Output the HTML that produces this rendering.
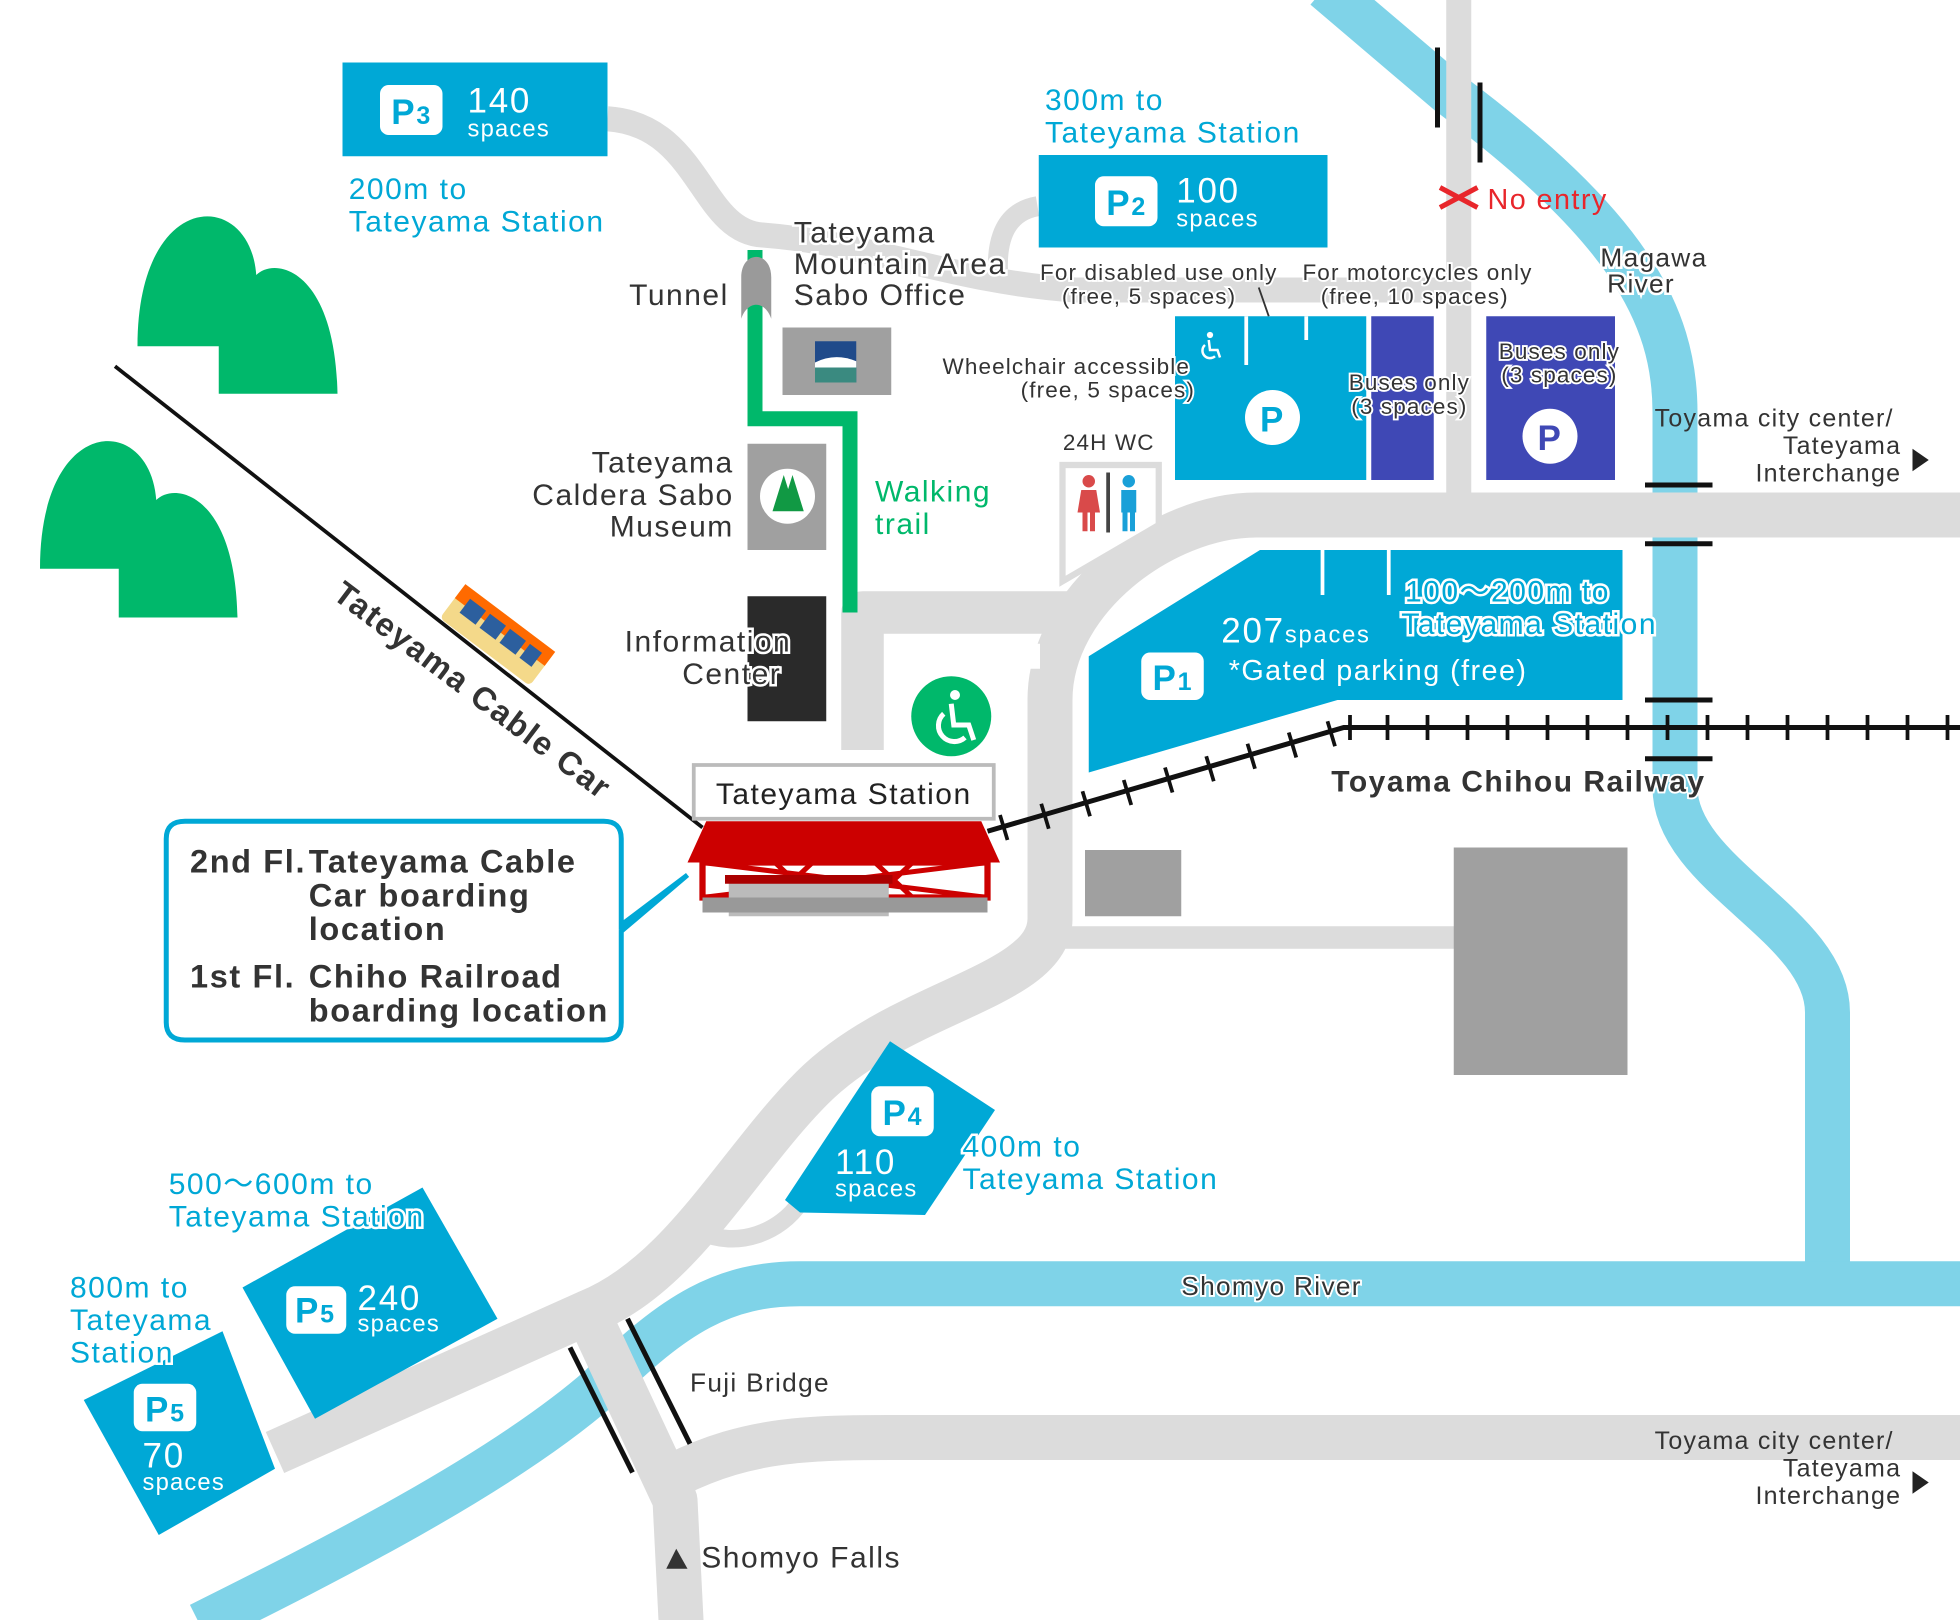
<!DOCTYPE html>
<html><head><meta charset="utf-8"><style>
html,body{margin:0;padding:0;background:#fff}
svg{display:block}
text{font-family:"Liberation Sans","Noto Sans CJK JP",sans-serif;letter-spacing:0.05em}
</style></head><body>
<svg width="1960" height="1620" viewBox="0 0 1568 1296" xmlns="http://www.w3.org/2000/svg">
<rect width="1568" height="1296" fill="#fff"/>
<!-- rivers -->
<g fill="none" stroke="#7fd3e8" stroke-width="36">
<path d="M1060,-10 L1160,75 C1300,180 1340,250 1340,330 L1340,630 C1340,700 1462,740 1462,810 L1462,1010"/>
<path d="M1568,1027 L640,1027 C580,1027 540,1050 480,1110 C400,1180 260,1250 160,1300"/>
</g>
<!-- roads -->
<g fill="none" stroke="#dcdcdc" stroke-linejoin="round">
<path d="M1568,412 L1005,412 C930,412 840,480 840,560 L840,735 C840,790 720,800 650,870 C590,930 545,1020 470,1050 L220,1162" stroke-width="36"/>
<path d="M470,1050 L540,1200 L545,1300" stroke-width="36"/>
<path d="M540,1180 C600,1150 650,1150 720,1150 L1568,1150" stroke-width="36"/>
<path d="M1167,0 L1167,400" stroke-width="20"/>
<path d="M486,95 C560,100 560,185 610,188 C700,195 760,225 860,232 L1167,232" stroke-width="20"/>
<path d="M800,232 C795,200 800,170 830,165" stroke-width="16"/>
<path d="M840,750 L1165,750" stroke-width="18"/>
<path d="M690,600 L690,490 L855,490" stroke-width="34"/>
<path d="M560,985 C590,1000 625,985 640,962" stroke-width="14"/>
</g>
<rect x="708" y="515" width="32" height="50" fill="#fff"/>
<rect x="777" y="515" width="55" height="20" fill="#fff"/>
<!-- hills -->
<g fill="#00b86b">
<path d="M110,277 C110,150 200,150 205,220 C220,205 268,215 270,315 L175,315 L175,277 Z"/>
<path d="M32,455 C32,330 120,330 125,400 C140,385 188,395 190,494 L95,494 L95,455 Z"/>
</g>
<!-- cable car line -->
<line x1="92" y1="293" x2="562" y2="662" stroke="#111" stroke-width="3"/>
<g transform="translate(398,508) rotate(37)">
<rect x="-45" y="-17" width="90" height="34" rx="4" fill="#f4d98a"/>
<rect x="-45" y="-17" width="90" height="14" fill="#ff6a00"/>
<rect x="-35" y="-10" width="16" height="14" fill="#2c5f9e"/><rect x="-15" y="-10" width="16" height="14" fill="#2c5f9e"/><rect x="5" y="-10" width="16" height="14" fill="#2c5f9e"/><rect x="25" y="-10" width="12" height="14" fill="#2c5f9e"/>
</g>
<text transform="translate(265,478) rotate(37)" font-size="26" font-weight="bold" fill="#333">Tateyama Cable Car</text>
<!-- walking trail -->
<path d="M604,200 L604,335 L680,335 L680,490" fill="none" stroke="#00b86b" stroke-width="12"/>
<path d="M593,255 L593,222 C593,200 617,200 617,222 L617,255 C612,240 598,240 593,255 Z" fill="#9a9a9a"/>
<!-- buildings -->
<rect x="626" y="262" width="87" height="54" fill="#a0a0a0"/>
<rect x="652" y="273" width="33" height="33" fill="#1f4a8a"/><rect x="652" y="292" width="33" height="14" fill="#3a8a80"/><path d="M652,290 Q668,282 685,289 L685,294 L652,294Z" fill="#fff"/>
<rect x="598" y="355" width="63" height="85" fill="#a0a0a0"/>
<circle cx="630" cy="397" r="22" fill="#fff"/>
<path d="M618,409 L627,380 L636,409Z M625,409 L634,380 L643,409Z" fill="#119944"/>
<rect x="598" y="477" width="63" height="100" fill="#2a2a2a"/>
<rect x="868" y="680" width="77" height="53" fill="#a0a0a0"/>
<rect x="1163" y="678" width="139" height="182" fill="#a0a0a0"/>
<!-- WC -->
<path d="M850,372 L927,372 L927,420 L850,465Z" fill="#fff" stroke="#dcdcdc" stroke-width="5"/>
<circle cx="871" cy="385" r="5" fill="#d94a4a"/><path d="M865,392 L877,392 L880,410 L862,410Z M866,410 h4 v15 h-4Z M872,410 h4 v15 h-4Z" fill="#d94a4a"/>
<rect x="885" y="378" width="3" height="48" fill="#444"/>
<circle cx="903" cy="385" r="5" fill="#1aa0d8"/><path d="M897,392 h12 v18 h-12Z M898,410 h4 v15 h-4Z M904,410 h4 v15 h-4Z" fill="#1aa0d8"/>
<!-- wheelchair -->
<circle cx="761" cy="573" r="32" fill="#00b86b"/>
<circle cx="764" cy="556" r="4" fill="#fff"/>
<path d="M761,563 L763,580 L775,580 L779,592" fill="none" stroke="#fff" stroke-width="4"/>
<path d="M755,571 A12,12 0 1 0 772,590" fill="none" stroke="#fff" stroke-width="4"/>
<!-- parking lots -->
<g fill="#00a8d6">
<rect x="274" y="50" width="212" height="75"/>
<rect x="831" y="124" width="231" height="74"/>
<rect x="940" y="253" width="153" height="131"/>
<polygon points="871,525 1008,440 1298,440 1298,560 1070,560 871,618"/>
<polygon points="712,833 796,888 740,972 640,970 628,960"/>
<polygon points="194,1030 338,950 398,1055 252,1135"/>
<polygon points="67,1120 178,1065 220,1175 127,1228"/>
</g>
<g fill="#3f48b5"><rect x="1097" y="253" width="50" height="131"/><rect x="1189" y="253" width="103" height="131"/></g>
<g stroke="#fff" stroke-width="3"><line x1="997" y1="253" x2="997" y2="292"/><line x1="1045" y1="253" x2="1045" y2="272"/><line x1="1058" y1="440" x2="1058" y2="476"/><line x1="1111" y1="440" x2="1111" y2="476"/></g>
<line x1="1007" y1="230" x2="1015" y2="253" stroke="#333" stroke-width="1.5"/>
<circle cx="1018" cy="334" r="22" fill="#fff"/><text x="1018" y="345" font-size="28" font-weight="bold" fill="#00a8d6" text-anchor="middle">P</text>
<circle cx="1240" cy="349" r="22" fill="#fff"/><text x="1240" y="360" font-size="28" font-weight="bold" fill="#3f48b5" text-anchor="middle">P</text>
<circle cx="968" cy="268" r="2.5" fill="#fff"/>
<path d="M967,272 L968,280 L974,280 L976,286" fill="none" stroke="#fff" stroke-width="2"/>
<path d="M964,276 A6,6 0 1 0 972,285" fill="none" stroke="#fff" stroke-width="2"/>
<!-- P badges -->
<g fill="#fff">
<rect x="304" y="68" width="50" height="40" rx="7"/>
<rect x="876" y="141" width="50" height="40" rx="7"/>
<rect x="913" y="522" width="50" height="38" rx="7"/>
<rect x="697" y="869" width="50" height="40" rx="7"/>
<rect x="229" y="1029" width="48" height="38" rx="7"/>
<rect x="107" y="1107" width="50" height="38" rx="7"/>
</g>
<g font-weight="bold" fill="#00a8d6" font-size="28">
<text x="313" y="99">P<tspan font-size="20">3</tspan></text>
<text x="885" y="172">P<tspan font-size="20">2</tspan></text>
<text x="922" y="552">P<tspan font-size="20">1</tspan></text>
<text x="706" y="900">P<tspan font-size="20">4</tspan></text>
<text x="236" y="1058">P<tspan font-size="20">5</tspan></text>
<text x="116" y="1137">P<tspan font-size="20">5</tspan></text>
</g>
<g fill="#fff">
<text x="374" y="90" font-size="28">140</text><text x="374" y="109" font-size="19">spaces</text>
<text x="941" y="162" font-size="28">100</text><text x="941" y="181" font-size="19">spaces</text>
<text x="977" y="514" font-size="28">207<tspan font-size="19">spaces</tspan></text>
<text x="983" y="544" font-size="23">*Gated parking (free)</text>
<text x="668" y="939" font-size="28">110</text><text x="668" y="957" font-size="19">spaces</text>
<text x="286" y="1048" font-size="28">240</text><text x="286" y="1065" font-size="19">spaces</text>
<text x="114" y="1174" font-size="28">70</text><text x="114" y="1192" font-size="19">spaces</text>
</g>
<!-- railway -->
<path d="M790,665 L1075,582 L1568,582" fill="none" stroke="#111" stroke-width="4"/>
<g stroke="#111" stroke-width="3">
<line x1="800" y1="652" x2="806" y2="672"/><line x1="833" y1="643" x2="839" y2="663"/><line x1="866" y1="633" x2="872" y2="653"/><line x1="899" y1="624" x2="905" y2="644"/><line x1="932" y1="614" x2="938" y2="634"/><line x1="965" y1="605" x2="971" y2="625"/><line x1="998" y1="595" x2="1004" y2="615"/><line x1="1031" y1="586" x2="1037" y2="606"/><line x1="1062" y1="577" x2="1068" y2="597"/>
</g>
<path d="M1080,572v20M1110,572v20M1142,572v20M1174,572v20M1206,572v20M1238,572v20M1270,572v20M1302,572v20M1334,572v20M1366,572v20M1398,572v20M1430,572v20M1462,572v20M1494,572v20M1526,572v20M1558,572v20" stroke="#111" stroke-width="3"/>
<g stroke="#111" stroke-width="4"><line x1="1316" y1="388" x2="1370" y2="388"/><line x1="1316" y1="435" x2="1370" y2="435"/><line x1="1316" y1="560" x2="1370" y2="560"/><line x1="1316" y1="607" x2="1370" y2="607"/><line x1="1150" y1="38" x2="1150" y2="102"/><line x1="1184" y1="66" x2="1184" y2="130"/><line x1="456" y1="1078" x2="506" y2="1178"/><line x1="502" y1="1055" x2="552" y2="1155"/></g>
<!-- station -->
<rect x="555" y="612" width="240" height="43" fill="#fff" stroke="#bbb" stroke-width="3"/>
<text x="675" y="643" font-size="24" fill="#222" text-anchor="middle">Tateyama Station</text>
<polygon points="565,657 785,657 800,690 550,690" fill="#c00"/>
<rect x="562" y="690" width="228" height="28" fill="none" stroke="#c00" stroke-width="5"/>
<path d="M562,690 L790,718 M562,718 L790,690 M620,690 L650,718 M650,690 L620,718 M700,690 L730,718 M730,690 L700,718" stroke="#c00" stroke-width="4"/>
<rect x="583" y="703" width="128" height="30" fill="#bbb"/>
<rect x="580" y="700" width="134" height="7" fill="#a00"/>
<rect x="562" y="718" width="228" height="12" fill="#999"/>
<!-- callout -->
<path d="M148,657 L483,657 Q497,657 497,671 L497,740 L550,700 L497,745 L497,818 Q497,832 483,832 L148,832 Q133,832 133,818 L133,671 Q133,657 148,657Z" fill="#fff" stroke="#00a8d6" stroke-width="4"/>
<g font-size="26" font-weight="bold" fill="#333" style="letter-spacing:0">
<text x="152" y="698">2nd Fl.</text><text x="247" y="698">Tateyama Cable</text><text x="247" y="725">Car boarding</text><text x="247" y="752">location</text>
<text x="152" y="790">1st Fl.</text><text x="247" y="790">Chiho Railroad</text><text x="247" y="817">boarding location</text>
</g>
<!-- cyan labels -->
<g fill="#00a8d6" font-size="24" stroke="#fff" stroke-width="4" paint-order="stroke">
<text x="279" y="159">200m to</text><text x="279" y="185">Tateyama Station</text>
<text x="836" y="88">300m to</text><text x="836" y="114">Tateyama Station</text>
<text x="1124" y="481">100～200m to</text><text x="1121" y="507">Tateyama Station</text>
<text x="770" y="925">400m to</text><text x="770" y="951">Tateyama Station</text>
<text x="135" y="955">500～600m to</text><text x="135" y="981">Tateyama Station</text>
<text x="56" y="1038">800m to</text><text x="56" y="1064">Tateyama</text><text x="56" y="1090">Station</text>
</g>
<text x="700" y="401" fill="#00b86b" font-size="24">Walking</text><text x="700" y="427" fill="#00b86b" font-size="24">trail</text>
<!-- dark labels -->
<g fill="#333" font-size="24" stroke="#fff" stroke-width="4" paint-order="stroke">
<text x="635" y="194">Tateyama</text><text x="635" y="219">Mountain Area</text><text x="635" y="244">Sabo Office</text>
<text x="583" y="244" text-anchor="end">Tunnel</text>
<text x="587" y="378" text-anchor="end">Tateyama</text><text x="587" y="404" text-anchor="end">Caldera Sabo</text><text x="587" y="429" text-anchor="end">Museum</text>
<text x="633" y="521" text-anchor="end">Information</text><text x="625" y="547" text-anchor="end">Center</text>
<text x="1366" y="213" text-anchor="end" font-size="21">Magawa</text><text x="1340" y="234" text-anchor="end" font-size="21">River</text>
</g>
<g fill="#333" font-size="18" stroke="#fff" stroke-width="3" paint-order="stroke">
<text x="1022" y="224" text-anchor="end">For disabled use only</text><text x="989" y="243" text-anchor="end">(free, 5 spaces)</text>
<text x="1226" y="224" text-anchor="end">For motorcycles only</text><text x="1207" y="243" text-anchor="end">(free, 10 spaces)</text>
<text x="952" y="299" text-anchor="end">Wheelchair accessible</text><text x="956" y="318" text-anchor="end">(free, 5 spaces)</text>
<text x="887" y="360" text-anchor="middle">24H WC</text>
<text x="1176" y="312" text-anchor="end">Buses only</text><text x="1174" y="331" text-anchor="end">(3 spaces)</text>
<text x="1296" y="287" text-anchor="end">Buses only</text><text x="1294" y="306" text-anchor="end">(3 spaces)</text>
</g>
<g fill="#333" font-size="20" text-anchor="end">
<text x="1515" y="341">Toyama city center/</text><text x="1521" y="363">Tateyama</text><text x="1521" y="385">Interchange</text>
<text x="1515" y="1159">Toyama city center/</text><text x="1521" y="1181">Tateyama</text><text x="1521" y="1203">Interchange</text>
</g>
<polygon points="1530,359 1530,377 1543,368" fill="#222"/><polygon points="1530,1177 1530,1195 1543,1186" fill="#222"/>
<path d="M1152,150 L1182,166 M1152,166 L1182,150" stroke="#e8262b" stroke-width="4"/>
<text x="1190" y="167" fill="#e8262b" font-size="23">No entry</text>
<text x="1065" y="633" fill="#333" font-size="24" font-weight="bold" stroke="#fff" stroke-width="3" paint-order="stroke">Toyama Chihou Railway</text>
<text x="945" y="1036" fill="#333" font-size="21" stroke="#fff" stroke-width="3" paint-order="stroke">Shomyo River</text>
<text x="552" y="1113" fill="#333" font-size="21" stroke="#fff" stroke-width="3" paint-order="stroke">Fuji Bridge</text>
<polygon points="533,1255 550,1255 541,1239" fill="#333"/>
<text x="561" y="1254" fill="#333" font-size="24">Shomyo Falls</text>
</svg>
</body></html>
